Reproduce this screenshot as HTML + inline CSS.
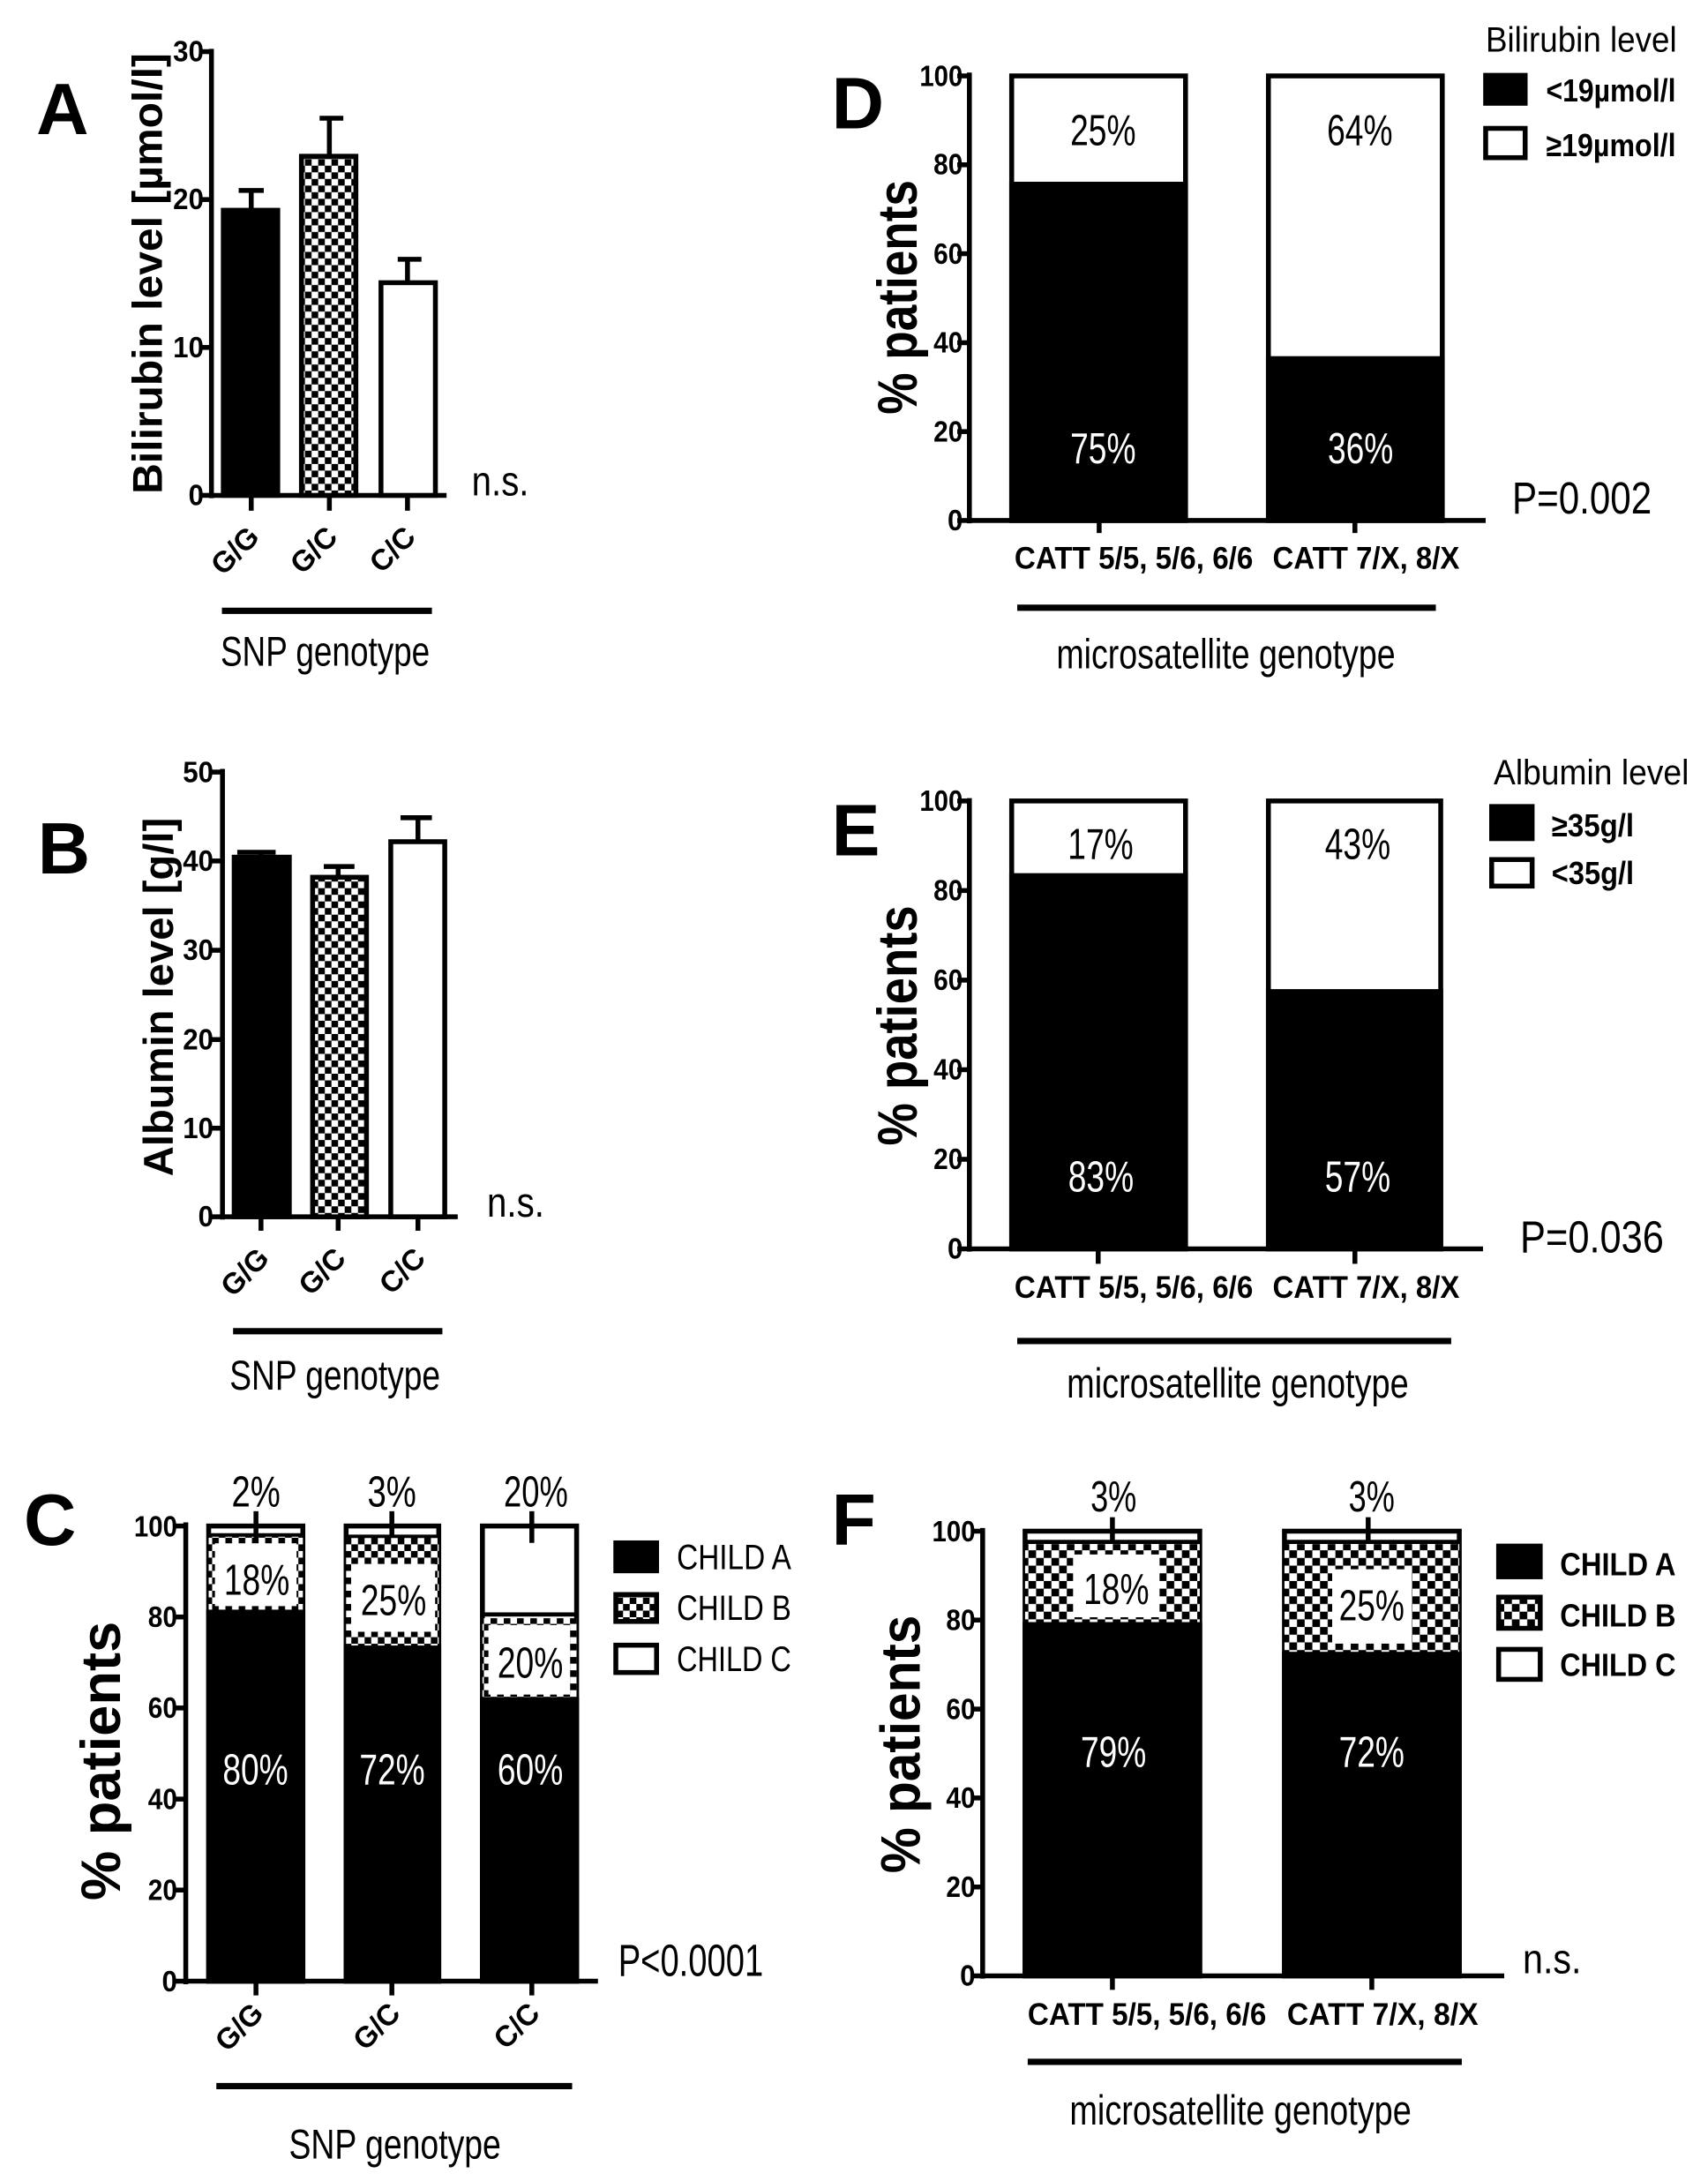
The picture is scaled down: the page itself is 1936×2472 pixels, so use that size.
<!DOCTYPE html>
<html><head><meta charset="utf-8"><style>
html,body{margin:0;padding:0;background:#fff;}
svg{display:block;}
text{font-family:"Liberation Sans",Arial,sans-serif;fill:#000;}
.b{font-weight:bold;}
.w{fill:#fff;}
</style></head><body>
<svg width="1936" height="2472" viewBox="0 0 1224 1563" xmlns="http://www.w3.org/2000/svg">
<defs>
<pattern id="chk" width="9.5" height="9.5" patternUnits="userSpaceOnUse">
<rect width="9.5" height="9.5" fill="#fff"/><rect width="4.75" height="4.75" fill="#000"/><rect x="4.75" y="4.75" width="4.75" height="4.75" fill="#000"/>
</pattern>
<pattern id="chk2" width="11" height="11" patternUnits="userSpaceOnUse">
<rect width="11" height="11" fill="#fff"/><rect width="5.5" height="5.5" fill="#000"/><rect x="5.5" y="5.5" width="5.5" height="5.5" fill="#000"/>
</pattern>
</defs>
<rect width="1224" height="1563" fill="#fff"/>
<g stroke="#000" stroke-width="3.5" fill="none">

<!-- ===== A ===== -->
<line x1="151.5" y1="35" x2="151.5" y2="357"/>
<line x1="150" y1="355" x2="320" y2="355"/>
<line x1="143" y1="37" x2="151.5" y2="37"/><line x1="143" y1="143" x2="151.5" y2="143"/><line x1="143" y1="249" x2="151.5" y2="249"/><line x1="143" y1="355" x2="151.5" y2="355"/>
<line x1="180" y1="355" x2="180" y2="366"/><line x1="236" y1="355" x2="236" y2="366"/><line x1="292" y1="355" x2="292" y2="366"/>
<rect x="160" y="150.7" width="39" height="204.3" fill="#000"/>
<rect x="216" y="112" width="39" height="243" fill="url(#chk)"/>
<rect x="273" y="202.6" width="39" height="152.4" fill="#fff"/>
<line x1="180" y1="150" x2="180" y2="136.5"/><line x1="171" y1="136.5" x2="189" y2="136.5"/>
<line x1="236" y1="112" x2="236" y2="84.7"/><line x1="229" y1="84.7" x2="246" y2="84.7"/>
<line x1="292" y1="202" x2="292" y2="185.8"/><line x1="285" y1="185.8" x2="302" y2="185.8"/>
<line x1="159" y1="437.7" x2="309.5" y2="437.7" stroke-width="4.5"/>

<!-- ===== B ===== -->
<line x1="159.4" y1="551" x2="159.4" y2="874"/>
<line x1="158" y1="872" x2="328" y2="872"/>
<line x1="151" y1="553.3" x2="159.4" y2="553.3"/><line x1="151" y1="617" x2="159.4" y2="617"/><line x1="151" y1="681" x2="159.4" y2="681"/><line x1="151" y1="745" x2="159.4" y2="745"/><line x1="151" y1="808.5" x2="159.4" y2="808.5"/><line x1="151" y1="872" x2="159.4" y2="872"/>
<line x1="187" y1="872" x2="187" y2="882"/><line x1="242.3" y1="872" x2="242.3" y2="882"/><line x1="299.5" y1="872" x2="299.5" y2="882"/>
<rect x="167.8" y="614.3" width="39.5" height="257.7" fill="#000"/>
<rect x="224" y="628.7" width="38.6" height="243.3" fill="url(#chk)"/>
<rect x="280" y="603.2" width="38.7" height="268.8" fill="#fff"/>
<line x1="187" y1="614" x2="187" y2="610.8"/><line x1="170" y1="610.8" x2="197.5" y2="610.8"/>
<line x1="242.3" y1="628" x2="242.3" y2="621"/><line x1="232" y1="621" x2="254" y2="621"/>
<line x1="299.5" y1="603" x2="299.5" y2="586"/><line x1="287" y1="586" x2="309.5" y2="586"/>
<line x1="167" y1="954" x2="317" y2="954" stroke-width="4.5"/>

<!-- ===== C ===== -->
<line x1="133.1" y1="1091" x2="133.1" y2="1422"/>
<line x1="132" y1="1419.8" x2="428.5" y2="1419.8"/>
<line x1="125" y1="1093.6" x2="133.1" y2="1093.6"/><line x1="125" y1="1158.8" x2="133.1" y2="1158.8"/><line x1="125" y1="1224" x2="133.1" y2="1224"/><line x1="125" y1="1289.3" x2="133.1" y2="1289.3"/><line x1="125" y1="1354.5" x2="133.1" y2="1354.5"/><line x1="125" y1="1419.8" x2="133.1" y2="1419.8"/>
<line x1="183.4" y1="1419.8" x2="183.4" y2="1430"/><line x1="280.8" y1="1419.8" x2="280.8" y2="1430"/><line x1="381.1" y1="1419.8" x2="381.1" y2="1430"/>
<!-- bar1 -->
<rect x="149.5" y="1093.6" width="67.5" height="326.2" fill="#fff"/>
<rect x="149.5" y="1101" width="67.5" height="54.3" fill="url(#chk)" stroke="none"/>
<rect x="154" y="1106" width="58.5" height="45" fill="#fff" stroke="none"/>
<rect x="149.5" y="1155.3" width="67.5" height="264.5" fill="#000"/>
<line x1="149.5" y1="1100" x2="217" y2="1100" stroke-width="2.5"/>
<!-- bar2 -->
<rect x="248" y="1093.6" width="66.4" height="326.2" fill="#fff"/>
<rect x="248" y="1102" width="66.4" height="79" fill="url(#chk)" stroke="none"/>
<rect x="251.6" y="1120.8" width="60.2" height="48.6" fill="#fff" stroke="none"/>
<rect x="248" y="1181" width="66.4" height="238.8" fill="#000"/>
<line x1="248" y1="1101" x2="314.4" y2="1101" stroke-width="2.5"/>
<!-- bar3 -->
<rect x="345.7" y="1093.6" width="67.5" height="326.2" fill="#fff"/>
<rect x="345.7" y="1159.7" width="67.5" height="58.3" fill="url(#chk)" stroke="none"/>
<rect x="350" y="1164.6" width="58.5" height="49.8" fill="#fff" stroke="none"/>
<rect x="345.7" y="1218" width="67.5" height="201.8" fill="#000"/>
<line x1="345.7" y1="1157" x2="413.2" y2="1157" stroke-width="3"/>
<line x1="183.4" y1="1083" x2="183.4" y2="1105.7"/><line x1="280.8" y1="1083" x2="280.8" y2="1101"/><line x1="381.1" y1="1083" x2="381.1" y2="1105.7"/>
<line x1="155" y1="1495" x2="410" y2="1495" stroke-width="4.5"/>
<!-- legend C -->
<rect x="441.3" y="1105.7" width="29.2" height="20" fill="#000"/>
<rect x="441.3" y="1142.7" width="29.2" height="19.3" fill="url(#chk)"/>
<rect x="441.3" y="1179" width="29.2" height="19.6" fill="#fff"/>

<!-- ===== D ===== -->
<line x1="694.7" y1="52" x2="694.7" y2="375"/>
<line x1="693" y1="373" x2="1064.7" y2="373"/>
<line x1="686" y1="54.4" x2="694.7" y2="54.4"/><line x1="686" y1="118.1" x2="694.7" y2="118.1"/><line x1="686" y1="181.8" x2="694.7" y2="181.8"/><line x1="686" y1="245.6" x2="694.7" y2="245.6"/><line x1="686" y1="309.3" x2="694.7" y2="309.3"/><line x1="686" y1="373" x2="694.7" y2="373"/>
<line x1="787.7" y1="373" x2="787.7" y2="382"/><line x1="971" y1="373" x2="971" y2="382"/>
<rect x="725" y="54.4" width="124.6" height="318.6" fill="#fff"/>
<rect x="725" y="132" width="124.6" height="241" fill="#000"/>
<rect x="909" y="54.4" width="124.6" height="318.6" fill="#fff"/>
<rect x="909" y="257" width="124.6" height="116" fill="#000"/>
<line x1="729" y1="435.5" x2="1029" y2="435.5" stroke-width="4.5"/>
<rect x="1064.7" y="54" width="28.3" height="20" fill="#000"/>
<rect x="1064.7" y="92" width="28.3" height="21" fill="#fff"/>

<!-- ===== E ===== -->
<line x1="694.7" y1="572" x2="694.7" y2="897"/>
<line x1="693" y1="895" x2="1062.8" y2="895"/>
<line x1="686" y1="574" x2="694.7" y2="574"/><line x1="686" y1="638.2" x2="694.7" y2="638.2"/><line x1="686" y1="702.4" x2="694.7" y2="702.4"/><line x1="686" y1="766.6" x2="694.7" y2="766.6"/><line x1="686" y1="830.8" x2="694.7" y2="830.8"/><line x1="686" y1="895" x2="694.7" y2="895"/>
<line x1="787" y1="895" x2="787" y2="905.7"/><line x1="971" y1="895" x2="971" y2="905.7"/>
<rect x="725" y="574" width="124.6" height="321" fill="#fff"/>
<rect x="725" y="627.5" width="124.6" height="267.5" fill="#000"/>
<rect x="909" y="574" width="123.5" height="321" fill="#fff"/>
<rect x="909" y="710.6" width="123.5" height="184.4" fill="#000"/>
<line x1="729" y1="961" x2="1040" y2="961" stroke-width="4.5"/>
<rect x="1069" y="578" width="29" height="23" fill="#000"/>
<rect x="1069" y="616" width="29" height="19" fill="#fff"/>

<!-- ===== F ===== -->
<line x1="704.2" y1="1095" x2="704.2" y2="1418"/>
<line x1="703" y1="1416" x2="1078" y2="1416"/>
<line x1="696" y1="1097.3" x2="704.2" y2="1097.3"/><line x1="696" y1="1161" x2="704.2" y2="1161"/><line x1="696" y1="1224.8" x2="704.2" y2="1224.8"/><line x1="696" y1="1288.5" x2="704.2" y2="1288.5"/><line x1="696" y1="1352.3" x2="704.2" y2="1352.3"/><line x1="696" y1="1416" x2="704.2" y2="1416"/>
<line x1="797.2" y1="1416" x2="797.2" y2="1426"/><line x1="983.1" y1="1416" x2="983.1" y2="1426"/>
<rect x="734.6" y="1097.3" width="125.2" height="318.7" fill="#fff"/>
<rect x="734.6" y="1106.6" width="125.2" height="57.6" fill="url(#chk2)" stroke="none"/>
<rect x="769" y="1114" width="62" height="45" fill="#fff" stroke="none"/>
<rect x="734.6" y="1164.2" width="125.2" height="251.8" fill="#000"/>
<line x1="734.6" y1="1105" x2="859.8" y2="1105" stroke-width="3"/>
<rect x="920.5" y="1097.3" width="125.3" height="318.7" fill="#fff"/>
<rect x="920.5" y="1106.6" width="125.3" height="79" fill="url(#chk2)" stroke="none"/>
<rect x="954.7" y="1124.6" width="57" height="53.3" fill="#fff" stroke="none"/>
<rect x="920.5" y="1185.5" width="125.3" height="230.5" fill="#000"/>
<line x1="920.5" y1="1105" x2="1045.8" y2="1105" stroke-width="3"/>
<line x1="797.2" y1="1087.3" x2="797.2" y2="1104.6"/><line x1="980.5" y1="1087.3" x2="980.5" y2="1104.6"/>
<line x1="736.5" y1="1477.6" x2="1047.6" y2="1477.6" stroke-width="4.5"/>
<rect x="1074" y="1108" width="29.8" height="22" fill="#000"/>
<rect x="1074" y="1144.6" width="29.8" height="22.3" fill="url(#chk2)"/>
<rect x="1074" y="1182" width="29.8" height="21.5" fill="#fff"/>
</g>

<!-- ===== TEXT ===== -->
<!-- A -->
<text x="26" y="96" class="b" font-size="52">A</text>
<g class="b" font-size="21" text-anchor="end">
<text x="146" y="44" textLength="22" lengthAdjust="spacingAndGlyphs">30</text>
<text x="146" y="150" textLength="22" lengthAdjust="spacingAndGlyphs">20</text>
<text x="146" y="256" textLength="22" lengthAdjust="spacingAndGlyphs">10</text>
<text x="146" y="362" textLength="11" lengthAdjust="spacingAndGlyphs">0</text>
</g>
<text transform="translate(116,196) rotate(-90)" class="b" font-size="30" text-anchor="middle" textLength="316" lengthAdjust="spacingAndGlyphs">Bilirubin level [µmol/l]</text>
<g class="b" font-size="21" text-anchor="end">
<text transform="translate(187,386) rotate(-45)">G/G</text>
<text transform="translate(243,386) rotate(-45)">G/C</text>
<text transform="translate(299,386) rotate(-45)">C/C</text>
</g>
<text x="338" y="355" font-size="30" textLength="41" lengthAdjust="spacingAndGlyphs">n.s.</text>
<text x="233" y="477" font-size="30" text-anchor="middle" textLength="150" lengthAdjust="spacingAndGlyphs">SNP genotype</text>

<!-- B -->
<text x="27" y="626" class="b" font-size="52">B</text>
<g class="b" font-size="21" text-anchor="end">
<text x="153" y="560.5" textLength="22" lengthAdjust="spacingAndGlyphs">50</text>
<text x="153" y="624" textLength="22" lengthAdjust="spacingAndGlyphs">40</text>
<text x="153" y="688" textLength="22" lengthAdjust="spacingAndGlyphs">30</text>
<text x="153" y="752" textLength="22" lengthAdjust="spacingAndGlyphs">20</text>
<text x="153" y="815.5" textLength="22" lengthAdjust="spacingAndGlyphs">10</text>
<text x="153" y="879" textLength="11" lengthAdjust="spacingAndGlyphs">0</text>
</g>
<text transform="translate(123.8,714.5) rotate(-90)" class="b" font-size="30" text-anchor="middle" textLength="257" lengthAdjust="spacingAndGlyphs">Albumin level [g/l]</text>
<g class="b" font-size="21" text-anchor="end">
<text transform="translate(194,903) rotate(-45)">G/G</text>
<text transform="translate(249,903) rotate(-45)">G/C</text>
<text transform="translate(306,903) rotate(-45)">C/C</text>
</g>
<text x="349" y="872" font-size="30" textLength="41" lengthAdjust="spacingAndGlyphs">n.s.</text>
<text x="240" y="996" font-size="30" text-anchor="middle" textLength="151" lengthAdjust="spacingAndGlyphs">SNP genotype</text>

<!-- C -->
<text x="17" y="1107" class="b" font-size="52">C</text>
<g class="b" font-size="21" text-anchor="end">
<text x="127" y="1101" textLength="31" lengthAdjust="spacingAndGlyphs">100</text>
<text x="127" y="1166" textLength="21" lengthAdjust="spacingAndGlyphs">80</text>
<text x="127" y="1231" textLength="21" lengthAdjust="spacingAndGlyphs">60</text>
<text x="127" y="1296.5" textLength="21" lengthAdjust="spacingAndGlyphs">40</text>
<text x="127" y="1361.5" textLength="21" lengthAdjust="spacingAndGlyphs">20</text>
<text x="127" y="1427" textLength="11" lengthAdjust="spacingAndGlyphs">0</text>
</g>
<text transform="translate(86,1262) rotate(-90)" class="b" font-size="40" text-anchor="middle" textLength="200" lengthAdjust="spacingAndGlyphs">% patients</text>
<g font-size="31" text-anchor="middle">
<text x="183.4" y="1079.5" textLength="35" lengthAdjust="spacingAndGlyphs">2%</text>
<text x="280.8" y="1079.5" textLength="35" lengthAdjust="spacingAndGlyphs">3%</text>
<text x="384" y="1079.5" textLength="46" lengthAdjust="spacingAndGlyphs">20%</text>
<text x="184" y="1142.7" textLength="47" lengthAdjust="spacingAndGlyphs">18%</text>
<text x="282" y="1157.3" textLength="47" lengthAdjust="spacingAndGlyphs">25%</text>
<text x="380" y="1202.2" textLength="47" lengthAdjust="spacingAndGlyphs">20%</text>
<text x="183" y="1278.8" class="w" textLength="47" lengthAdjust="spacingAndGlyphs">80%</text>
<text x="281" y="1278.8" class="w" textLength="47" lengthAdjust="spacingAndGlyphs">72%</text>
<text x="380" y="1278.8" class="w" textLength="47" lengthAdjust="spacingAndGlyphs">60%</text>
</g>
<g font-size="25">
<text x="485" y="1124.4" textLength="82" lengthAdjust="spacingAndGlyphs">CHILD A</text>
<text x="485" y="1161" textLength="82" lengthAdjust="spacingAndGlyphs">CHILD B</text>
<text x="485" y="1197.4" textLength="82" lengthAdjust="spacingAndGlyphs">CHILD C</text>
</g>
<text x="443" y="1416" font-size="32" textLength="104" lengthAdjust="spacingAndGlyphs">P&lt;0.0001</text>
<g class="b" font-size="21" text-anchor="end">
<text transform="translate(190,1444) rotate(-45)">G/G</text>
<text transform="translate(288,1444) rotate(-45)">G/C</text>
<text transform="translate(388,1444) rotate(-45)">C/C</text>
</g>
<text x="283" y="1547" font-size="30" text-anchor="middle" textLength="152" lengthAdjust="spacingAndGlyphs">SNP genotype</text>

<!-- D -->
<text x="596" y="92" class="b" font-size="52">D</text>
<g class="b" font-size="21" text-anchor="end">
<text x="690" y="61.5" textLength="31" lengthAdjust="spacingAndGlyphs">100</text>
<text x="690" y="125" textLength="21" lengthAdjust="spacingAndGlyphs">80</text>
<text x="690" y="189" textLength="21" lengthAdjust="spacingAndGlyphs">60</text>
<text x="690" y="252.5" textLength="21" lengthAdjust="spacingAndGlyphs">40</text>
<text x="690" y="316.5" textLength="21" lengthAdjust="spacingAndGlyphs">20</text>
<text x="690" y="380" textLength="11" lengthAdjust="spacingAndGlyphs">0</text>
</g>
<text transform="translate(657,213) rotate(-90)" class="b" font-size="40" text-anchor="middle" textLength="168" lengthAdjust="spacingAndGlyphs">% patients</text>
<g font-size="31" text-anchor="middle">
<text x="790.5" y="104" textLength="47" lengthAdjust="spacingAndGlyphs">25%</text>
<text x="974.5" y="104" textLength="47" lengthAdjust="spacingAndGlyphs">64%</text>
<text x="790.5" y="332" class="w" textLength="47" lengthAdjust="spacingAndGlyphs">75%</text>
<text x="975" y="332" class="w" textLength="47" lengthAdjust="spacingAndGlyphs">36%</text>
</g>
<g class="b" font-size="22">
<text x="727" y="407.6" textLength="171" lengthAdjust="spacingAndGlyphs">CATT 5/5, 5/6, 6/6</text>
<text x="912" y="407.6" textLength="134" lengthAdjust="spacingAndGlyphs">CATT 7/X, 8/X</text>
</g>
<text x="878.5" y="479" font-size="30" text-anchor="middle" textLength="243" lengthAdjust="spacingAndGlyphs">microsatellite genotype</text>
<text x="1083.7" y="368" font-size="32" textLength="100" lengthAdjust="spacingAndGlyphs">P=0.002</text>
<text x="1064.7" y="37" font-size="25" textLength="137" lengthAdjust="spacingAndGlyphs">Bilirubin level</text>
<g class="b" font-size="23">
<text x="1108" y="72.7" textLength="93" lengthAdjust="spacingAndGlyphs">&lt;19µmol/l</text>
<text x="1108" y="112" textLength="93" lengthAdjust="spacingAndGlyphs">≥19µmol/l</text>
</g>

<!-- E -->
<text x="596" y="613" class="b" font-size="52">E</text>
<g class="b" font-size="21" text-anchor="end">
<text x="690" y="581" textLength="31" lengthAdjust="spacingAndGlyphs">100</text>
<text x="690" y="645.2" textLength="21" lengthAdjust="spacingAndGlyphs">80</text>
<text x="690" y="709.4" textLength="21" lengthAdjust="spacingAndGlyphs">60</text>
<text x="690" y="773.6" textLength="21" lengthAdjust="spacingAndGlyphs">40</text>
<text x="690" y="837.8" textLength="21" lengthAdjust="spacingAndGlyphs">20</text>
<text x="690" y="902" textLength="11" lengthAdjust="spacingAndGlyphs">0</text>
</g>
<text transform="translate(657,735) rotate(-90)" class="b" font-size="40" text-anchor="middle" textLength="172" lengthAdjust="spacingAndGlyphs">% patients</text>
<g font-size="31" text-anchor="middle">
<text x="788.7" y="615.6" textLength="47" lengthAdjust="spacingAndGlyphs">17%</text>
<text x="973" y="615.6" textLength="47" lengthAdjust="spacingAndGlyphs">43%</text>
<text x="789" y="854" class="w" textLength="47" lengthAdjust="spacingAndGlyphs">83%</text>
<text x="973" y="854" class="w" textLength="47" lengthAdjust="spacingAndGlyphs">57%</text>
</g>
<g class="b" font-size="22">
<text x="727" y="930" textLength="171" lengthAdjust="spacingAndGlyphs">CATT 5/5, 5/6, 6/6</text>
<text x="912" y="930" textLength="134" lengthAdjust="spacingAndGlyphs">CATT 7/X, 8/X</text>
</g>
<text x="887" y="1001.4" font-size="30" text-anchor="middle" textLength="245" lengthAdjust="spacingAndGlyphs">microsatellite genotype</text>
<text x="1089.4" y="897.6" font-size="32" textLength="103" lengthAdjust="spacingAndGlyphs">P=0.036</text>
<text x="1070.4" y="562" font-size="25" textLength="140" lengthAdjust="spacingAndGlyphs">Albumin level</text>
<g class="b" font-size="23">
<text x="1112" y="599.4" textLength="59" lengthAdjust="spacingAndGlyphs">≥35g/l</text>
<text x="1112" y="633.4" textLength="59" lengthAdjust="spacingAndGlyphs">&lt;35g/l</text>
</g>

<!-- F -->
<text x="596" y="1107" class="b" font-size="52">F</text>
<g class="b" font-size="21" text-anchor="end">
<text x="699" y="1104.5" textLength="31" lengthAdjust="spacingAndGlyphs">100</text>
<text x="699" y="1168" textLength="21" lengthAdjust="spacingAndGlyphs">80</text>
<text x="699" y="1232" textLength="21" lengthAdjust="spacingAndGlyphs">60</text>
<text x="699" y="1295.5" textLength="21" lengthAdjust="spacingAndGlyphs">40</text>
<text x="699" y="1359.5" textLength="21" lengthAdjust="spacingAndGlyphs">20</text>
<text x="699" y="1423" textLength="11" lengthAdjust="spacingAndGlyphs">0</text>
</g>
<text transform="translate(659,1250) rotate(-90)" class="b" font-size="40" text-anchor="middle" textLength="185" lengthAdjust="spacingAndGlyphs">% patients</text>
<g font-size="31" text-anchor="middle">
<text x="798" y="1083" textLength="33" lengthAdjust="spacingAndGlyphs">3%</text>
<text x="983" y="1083" textLength="33" lengthAdjust="spacingAndGlyphs">3%</text>
<text x="800" y="1149.6" textLength="47" lengthAdjust="spacingAndGlyphs">18%</text>
<text x="983" y="1161.2" textLength="47" lengthAdjust="spacingAndGlyphs">25%</text>
<text x="798" y="1266" class="w" textLength="47" lengthAdjust="spacingAndGlyphs">79%</text>
<text x="983" y="1266" class="w" textLength="47" lengthAdjust="spacingAndGlyphs">72%</text>
</g>
<g class="b" font-size="22">
<text x="736.5" y="1451" textLength="171" lengthAdjust="spacingAndGlyphs">CATT 5/5, 5/6, 6/6</text>
<text x="922.4" y="1451" textLength="137" lengthAdjust="spacingAndGlyphs">CATT 7/X, 8/X</text>
</g>
<text x="889" y="1522.5" font-size="30" text-anchor="middle" textLength="245" lengthAdjust="spacingAndGlyphs">microsatellite genotype</text>
<text x="1091.3" y="1414" font-size="30" textLength="42" lengthAdjust="spacingAndGlyphs">n.s.</text>
<g class="b" font-size="23">
<text x="1118" y="1129" textLength="83" lengthAdjust="spacingAndGlyphs">CHILD A</text>
<text x="1118" y="1165.5" textLength="83" lengthAdjust="spacingAndGlyphs">CHILD B</text>
<text x="1118" y="1201" textLength="83" lengthAdjust="spacingAndGlyphs">CHILD C</text>
</g>
</svg>
</body></html>
